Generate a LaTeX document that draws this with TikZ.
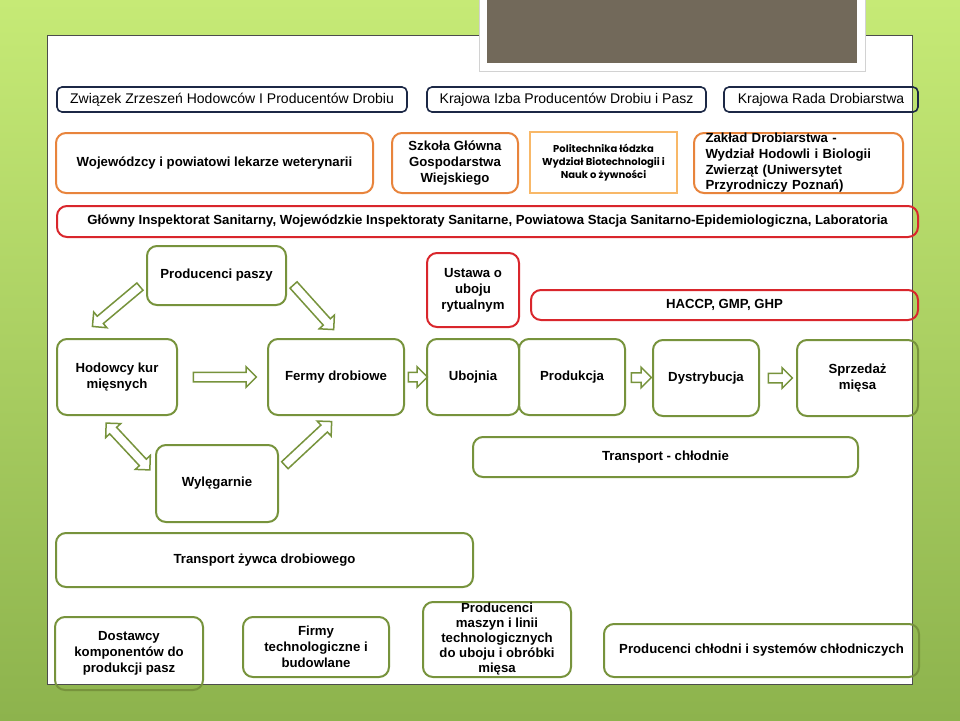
\documentclass[tikz,border=0pt]{standalone}
\usepackage{fontspec}
\setmainfont{Liberation Sans}
\newfontfamily\gothicfont{Poppins}
\usepackage{tikz}
\usetikzlibrary{
  calc,
  shapes.arrows
}
\definecolor{boxgreen}{HTML}{77933C}
\definecolor{boxred}{HTML}{D9262C}
\definecolor{boxorange}{HTML}{E8843C}
\definecolor{lightorange}{HTML}{F8B868}
\definecolor{boxnavy}{HTML}{1C2846}
\definecolor{titlebrown}{HTML}{72695A}
\definecolor{limetop}{HTML}{C6EA76}
\definecolor{limemid}{HTML}{B2DA60}
\definecolor{limebot}{HTML}{8DB34D}

\tikzset{
  box/.style={rounded corners=10pt, line width=2pt, align=center, inner sep=2pt,
    font=\fontsize{13.2}{16}\selectfont\bfseries},
  greenbox/.style={box, draw=boxgreen},
  redbox/.style={box, draw=boxred},
  orangebox/.style={box, draw=boxorange},
  navybox/.style={box, draw=boxnavy, rounded corners=5pt, line width=1.6pt,
    font=\fontsize{14}{16}\selectfont},
  barrow/.style={single arrow, draw=boxgreen, fill=white, line width=1.5pt,
    single arrow head extend=5.5pt, single arrow tip angle=90,
    inner sep=0pt, text height=4pt, text depth=4pt},
  dbarrow/.style={double arrow, draw=boxgreen, fill=white, line width=1.5pt,
    double arrow head extend=5.5pt, double arrow tip angle=90,
    inner sep=0pt, text height=4pt, text depth=4pt}
}

\begin{document}
\begin{tikzpicture}[x=1pt,y=-1pt]
  \useasboundingbox (0,0) rectangle (960,720);
  % slide background
  \shade[top color=limetop, middle color=limemid, bottom color=limebot] (0,0) rectangle (960,720);
  \fill[white] (47,35) rectangle (912,684);
  \draw[gray!60!black, line width=0.6pt] (47,35) rectangle (912,684);
  \fill[white, draw=gray!35, line width=0.8pt] (479,-2) rectangle (865,71);
  \fill[titlebrown] (487,0) rectangle (857,63);

  % top row
  \node[navybox, minimum width=350, minimum height=25] (zzh) at (232,99.5) {Związek Zrzeszeń Hodowców I Producentów Drobiu};
  \node[navybox, minimum width=279, minimum height=25] (kip) at (566.5,99.5) {Krajowa Izba Producentów Drobiu i Pasz};
  \node[navybox, minimum width=194, minimum height=25] (krd) at (821,99.5) {Krajowa Rada Drobiarstwa};

  % universities and vets
  \node[orangebox, minimum width=317, minimum height=60] (wet) at (214.5,163) {Wojewódzcy i powiatowi lekarze weterynarii};
  \node[orangebox, minimum width=126, minimum height=60] (sggw) at (455,163) {Szkoła Główna\\Gospodarstwa\\Wiejskiego};
  \node[draw=lightorange, line width=2pt, minimum width=147, minimum height=61, align=center,
    font=\gothicfont\fontsize{10}{13}\selectfont\bfseries] (pl) at (603.5,162.5) {Politechnika łódzka\\Wydział Biotechnologii i\\Nauk o żywności};
  \node[orangebox, minimum width=209, minimum height=60, inner ysep=0pt, text width=186, align=left,
    font=\fontsize{13.2}{15.7}\selectfont\bfseries] (zd) at (798.5,163) {Zakład Drobiarstwa -\\Wydział Hodowli i Biologii\\Zwierząt (Uniwersytet\\Przyrodniczy Poznań)};

  \node[redbox, minimum width=861, minimum height=31] (gis) at (487.5,221.5) {Główny Inspektorat Sanitarny, Wojewódzkie Inspektoraty Sanitarne, Powiatowa Stacja Sanitarno-Epidemiologiczna, Laboratoria};

  % feed and law
  \node[greenbox, minimum width=139, minimum height=59] (pasz) at (216.5,275.5) {Producenci paszy};
  \node[redbox, minimum width=92, minimum height=74] (ust) at (473,290) {Ustawa o\\uboju\\rytualnym};
  \node[redbox, minimum width=387, minimum height=30] (haccp) at (724.5,305) {HACCP, GMP, GHP};

  % main chain
  \node[greenbox, minimum width=120, minimum height=76] (hod) at (117,377) {Hodowcy kur\\mięsnych};
  \node[greenbox, minimum width=136, minimum height=76] (ferm) at (336,377) {Fermy drobiowe};
  \node[greenbox, minimum width=92, minimum height=76] (ubo) at (473,377) {Ubojnia};
  \node[greenbox, minimum width=106, minimum height=76] (prod) at (572,377) {Produkcja};
  \node[greenbox, minimum width=106, minimum height=76] (dys) at (706,378) {Dystrybucja};
  \node[greenbox, minimum width=121, minimum height=76] (sprz) at (857.5,378) {Sprzedaż\\mięsa};

  \node[greenbox, minimum width=385, minimum height=40] (tch) at (665.5,457) {Transport - chłodnie};
  \node[greenbox, minimum width=122, minimum height=77] (wyl) at (217,483.5) {Wylęgarnie};
  \node[greenbox, minimum width=417, minimum height=54] (tzd) at (264.5,560) {Transport żywca drobiowego};

  % suppliers
  \node[greenbox, minimum width=148, minimum height=73] (dost) at (129,653.5) {Dostawcy\\komponentów do\\produkcji pasz};
  \node[greenbox, minimum width=146, minimum height=60] (firmy) at (316,647) {Firmy\\technologiczne i\\budowlane};
  \node[greenbox, minimum width=148, minimum height=75, inner ysep=0pt,
    font=\fontsize{13.2}{15}\selectfont\bfseries] (masz) at (497,639.5) {Producenci\\maszyn i linii\\technologicznych\\do uboju i obróbki\\mięsa};
  \node[greenbox, minimum width=315, minimum height=53] (chl) at (761.5,650.5) {Producenci chłodni i systemów chłodniczych};

  % block arrows
  \node[barrow, minimum height=63] (a1) at ($(hod.east)!0.5!(ferm.west)$) {};
  \node[barrow, minimum height=19] (a2) at ($(ferm.east)!0.5!(ubo.west)$) {};
  \node[barrow, minimum height=20] (a3) at ($(prod.east)!0.5!(dys.west)$) {};
  \node[barrow, minimum height=24] (a4) at ($(dys.east)!0.5!(sprz.west)$) {};
  \node[barrow, minimum height=62, rotate=220] (d1) at (118,305) {};
  \node[barrow, minimum height=60, rotate=-48] (d2) at (312,305.5) {};
  \node[dbarrow, minimum height=64, rotate=-47] (d3) at (128,446.5) {};
  \node[barrow, minimum height=64, rotate=43] (d4) at (306.5,445) {};
\end{tikzpicture}
\end{document}
